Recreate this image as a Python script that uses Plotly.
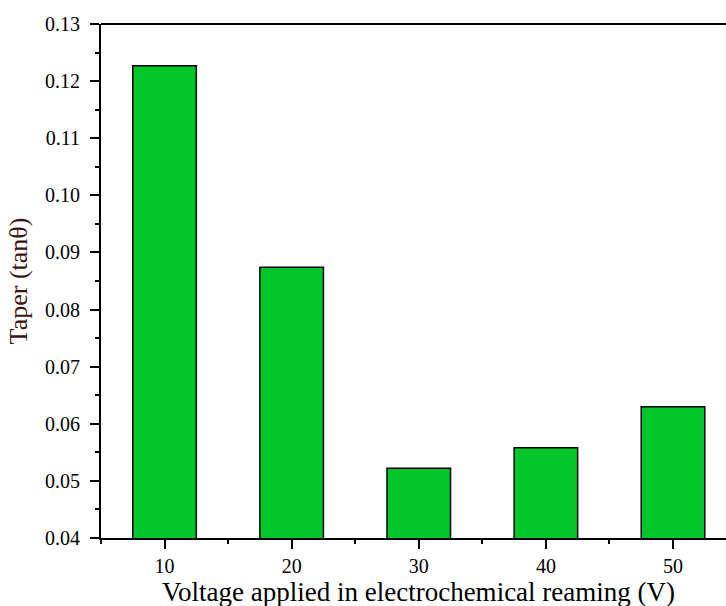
import plotly.graph_objects as go

voltages = [10, 20, 30, 40, 50]
taper = [0.1227, 0.0874, 0.0522, 0.0558, 0.0630]
x_tick_labels = ["10", "20", "30", "40", "50"]
y_ticks = [0.04, 0.05, 0.06, 0.07, 0.08, 0.09, 0.10, 0.11, 0.12, 0.13]
y_tick_labels = ["0.04", "0.05", "0.06", "0.07", "0.08", "0.09", "0.10", "0.11", "0.12", "0.13"]
x_title = "Voltage applied in electrochemical reaming (V)"
y_title = "Taper (tanθ)"

font_family = "Liberation Serif, Times New Roman, serif"

fig = go.Figure()
fig.add_trace(go.Bar(
    x=voltages,
    y=taper,
    width=5,
    marker=dict(color="#00C62A", line=dict(color="#000000", width=1.5)),
))

fig.update_layout(
    width=726,
    height=606,
    margin=dict(l=101, r=0, t=24, b=68),
    paper_bgcolor="white",
    plot_bgcolor="white",
    showlegend=False,
    font=dict(family=font_family, color="#000000"),
    shapes=[dict(type="line", xref="paper", yref="paper", x0=0, x1=1, y0=1, y1=1,
                 line=dict(color="#000000", width=2))],
    annotations=[dict(text=x_title, xref="paper", yref="paper", x=0.508, y=-0.106,
                      xanchor="center", yanchor="middle", showarrow=False,
                      font=dict(size=27, family=font_family, color="#000000"))],
)

fig.update_xaxes(
    range=[5, 54.17],
    tickmode="array",
    tickvals=voltages,
    ticktext=x_tick_labels,
    ticks="outside",
    ticklen=9,
    tickwidth=2,
    tickcolor="#000000",
    showline=True,
    linewidth=2,
    linecolor="#000000",
    showgrid=False,
    zeroline=False,
    tickfont=dict(size=20, family=font_family, color="#000000"),
    minor=dict(tickmode="array", tickvals=[5, 15, 25, 35, 45], ticks="outside", ticklen=4, tickwidth=2, tickcolor="#000000"),
)

fig.update_yaxes(
    range=[0.04, 0.13],
    tickmode="array",
    tickvals=y_ticks,
    ticktext=y_tick_labels,
    ticks="outside",
    ticklen=9,
    tickwidth=2,
    tickcolor="#000000",
    showline=True,
    linewidth=2,
    linecolor="#000000",
    showgrid=False,
    zeroline=False,
    ticklabelstandoff=6,
    tickfont=dict(size=20, family=font_family, color="#000000"),
    minor=dict(tickmode="array", tickvals=[0.045, 0.055, 0.065, 0.075, 0.085, 0.095, 0.105, 0.115, 0.125], ticks="outside", ticklen=4, tickwidth=2, tickcolor="#000000"),
    title=dict(text=y_title, font=dict(size=26, family=font_family, color="#3a1414"), standoff=10),
)

fig.write_html("out.html")
